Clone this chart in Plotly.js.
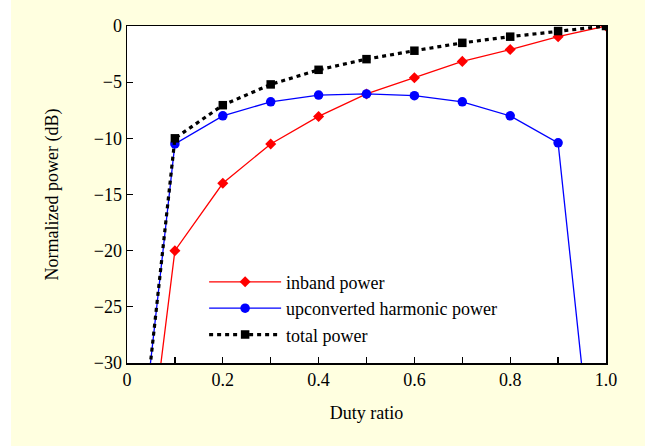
<!DOCTYPE html>
<html>
<head>
<meta charset="utf-8">
<script src="https://cdn.plot.ly/plotly-3.0.1.min.js"></script>
<style>
  html, body { margin: 0; padding: 0; background: #ffffff; }
  #chart { position: absolute; left: 11px; top: 0; width: 634px; height: 446px; }
</style>
</head>
<body>
<div id="chart"></div>
<script>
// Duty ratio values per series
const inbandX = [0.07, 0.1, 0.2, 0.3, 0.4, 0.5, 0.6, 0.7, 0.8, 0.9, 1.0];
const inbandY = [-30.3, -20.0, -14.0, -10.5, -8.05, -6.05, -4.6, -3.15, -2.1, -0.95, 0];

const harmonicX = [0.048, 0.1, 0.2, 0.3, 0.4, 0.5, 0.6, 0.7, 0.8, 0.9, 0.95];
const harmonicY = [-30.4, -10.5, -8.0, -6.75, -6.15, -6.05, -6.2, -6.75, -8.0, -10.4, -30.5];

const totalX = [0.048, 0.1, 0.2, 0.3, 0.4, 0.5, 0.6, 0.7, 0.8, 0.9, 1.0];
const totalY = [-30.4, -10.0, -7.05, -5.2, -3.9, -2.95, -2.2, -1.5, -0.95, -0.45, 0];

const seriesNames = ['inband power', 'upconverted harmonic power', 'total power'];
const xTickVals = [0, 0.2, 0.4, 0.6, 0.8, 1.0];
const xTickText = ['0', '0.2', '0.4', '0.6', '0.8', '1.0'];
const yTickVals = [-30, -25, -20, -15, -10, -5, 0];

const font = 'Liberation Serif, Times New Roman, serif';

// markers are only drawn for points inside the visible y range
function inRange(ys) {
  const idx = [];
  ys.forEach((v, i) => { if (v >= -30) idx.push(i); });
  return idx;
}
const hidden = { marker: { opacity: 0 } };

const traces = [
  {
    x: inbandX, y: inbandY, name: seriesNames[0], mode: 'lines+markers', type: 'scatter',
    line: { color: '#ff0000', width: 1.3 },
    marker: { symbol: 'diamond', size: 8.5, color: '#ff0000', opacity: 1 },
    selectedpoints: inRange(inbandY), unselected: hidden, selected: { marker: { opacity: 1 } }
  },
  {
    x: harmonicX, y: harmonicY, name: seriesNames[1], mode: 'lines+markers', type: 'scatter',
    line: { color: '#0000ff', width: 1.3 },
    marker: { symbol: 'circle', size: 9.5, color: '#0000ff', opacity: 1 },
    selectedpoints: inRange(harmonicY), unselected: hidden, selected: { marker: { opacity: 1 } }
  },
  {
    x: totalX, y: totalY, name: seriesNames[2], mode: 'lines+markers', type: 'scatter',
    line: { color: '#000000', width: 3.2, dash: '4px,4px' },
    marker: { symbol: 'square', size: 8.5, color: '#000000', opacity: 1 },
    selectedpoints: inRange(totalY), unselected: hidden, selected: { marker: { opacity: 1 } }
  }
];

const layout = {
  width: 634, height: 446,
  paper_bgcolor: '#ffffe0',
  plot_bgcolor: '#ffffff',
  margin: { l: 116, r: 39, t: 26, b: 83 },
  font: { family: font, size: 18, color: '#000000' },
  showlegend: true,
  legend: {
    x: 0.161, y: 0.295, xanchor: 'left', yanchor: 'top',
    bgcolor: 'rgba(0,0,0,0)', borderwidth: 0,
    font: { family: font, size: 18, color: '#000' },
    itemwidth: 72, tracegroupgap: 0
  },
  xaxis: {
    range: [0, 1.0], tickmode: 'array', tickvals: xTickVals, ticktext: xTickText,
    ticks: 'inside', ticklen: 6, tickwidth: 1.3, tickcolor: '#000',
    minor: { dtick: 0.1, ticks: 'inside', ticklen: 6, tickwidth: 1.3, tickcolor: '#000', showgrid: false },
    showline: true, linecolor: '#000', linewidth: 1.5, mirror: true,
    showgrid: false, zeroline: false,
    tickfont: { family: font, size: 18 },
    title: { text: 'Duty ratio', font: { family: font, size: 18 }, standoff: 17 }
  },
  yaxis: {
    range: [-30, 0], tickmode: 'array', tickvals: yTickVals,
    ticks: 'inside', ticklen: 6, tickwidth: 1.3, tickcolor: '#000',
    showline: true, linecolor: '#000', linewidth: 1.5, mirror: true,
    showgrid: false, zeroline: false,
    tickfont: { family: font, size: 18 },
    title: { text: 'Normalized power (dB)', font: { family: font, size: 18 }, standoff: 30 }
  }
};

Plotly.newPlot('chart', traces, layout, { displayModeBar: false, staticPlot: true });
</script>
</body>
</html>
